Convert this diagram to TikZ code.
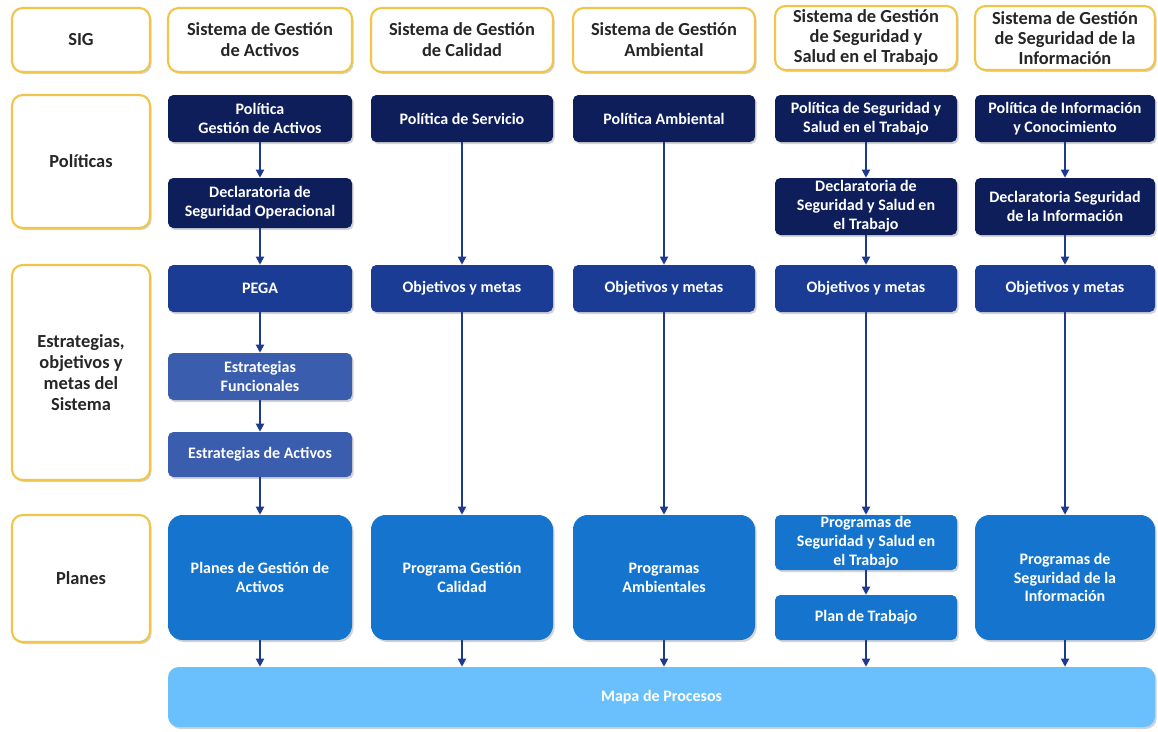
\documentclass[tikz,border=0pt]{standalone}
\usepackage{fontspec}
\setmainfont{Carlito}
\usetikzlibrary{arrows.meta,shadows}
\definecolor{ybord}{HTML}{F0C64A}
\definecolor{navy}{HTML}{0E1E5B}
\definecolor{midblue}{HTML}{1A3C94}
\definecolor{stratblue}{HTML}{3A5DAE}
\definecolor{planblue}{HTML}{1574CE}
\definecolor{mapblue}{HTML}{69C0FC}
\definecolor{arrowblue}{HTML}{1E3A8E}
\tikzset{
  sz/.style 2 args={minimum width=#1*0.75pt,minimum height=#2*0.75pt},
  shd/.style={drop shadow={shadow xshift=1.2pt,shadow yshift=-1.5pt,opacity=0.35,fill=gray}},
  hdr/.style={draw=ybord,line width=1.6pt,fill=white,rounded corners=8pt,shd,
    font=\bfseries\fontsize{13.8}{15.8}\selectfont,text=black!85,align=center,inner sep=0pt},
  box/.style={rounded corners=4pt,shd,text=white,align=center,inner sep=0pt,
    font=\bfseries\fontsize{12}{14.2}\selectfont},
  pol/.style={box,fill=navy},
  obj/.style={box,fill=midblue},
  strat/.style={box,fill=stratblue},
  plan/.style={box,fill=planblue,rounded corners=11pt},
  plansm/.style={box,fill=planblue,rounded corners=4pt},
  arr/.style={draw=arrowblue,line width=1.3pt,-{Triangle[length=6pt,width=6pt]}}
}
\begin{document}
\begin{tikzpicture}[x=0.75pt,y=-0.75pt]
\useasboundingbox (0,0) rectangle (1158,732);
% left column
\node[hdr,sz={138}{64}] (sig) at (81,40) {SIG};
\node[hdr,sz={138}{133}] (pols) at (81,161.5) {Políticas};
\node[hdr,sz={138}{215}] (estr) at (81,372.5) {\baselineskip=17.6pt Estrategias,\\objetivos y\\metas del\\Sistema};
\node[hdr,sz={138}{127}] (plns) at (81,578.5) {Planes};
% headers
\node[hdr,sz={184}{64}] (h1) at (260,40) {Sistema de Gestión\\de Activos};
\node[hdr,sz={182}{64}] (h2) at (462,40) {Sistema de Gestión\\de Calidad};
\node[hdr,sz={182}{64}] (h3) at (664,40) {Sistema de Gestión\\Ambiental};
\node[hdr,sz={182}{64},font=\bfseries\fontsize{13.8}{15}\selectfont] (h4) at (866,38) {Sistema de Gestión\\de Seguridad y\\Salud en el Trabajo};
\node[hdr,sz={180}{64},font=\bfseries\fontsize{13.8}{15}\selectfont] (h5) at (1065,38) {Sistema de Gestión\\de Seguridad de la\\Información};
% column 1
\node[pol,sz={184}{47}] (a1) at (260,118.5) {Política\\Gestión de Activos};
\node[pol,sz={184}{50}] (a2) at (260,203) {Declaratoria de\\Seguridad Operacional};
\node[obj,sz={184}{47}] (a3) at (260,288.5) {PEGA};
\node[strat,sz={184}{47}] (a4) at (260,376.5) {Estrategias\\Funcionales};
\node[strat,sz={184}{45}] (a5) at (260,454.5) {Estrategias de Activos};
\node[plan,sz={184}{125}] (a6) at (260,577.5) {Planes de Gestión de\\Activos};
% column 2
\node[pol,sz={182}{47}] (b1) at (462,118.5) {Política de Servicio};
\node[obj,sz={182}{47}] (b2) at (462,288.5) {Objetivos y metas};
\node[plan,sz={182}{125}] (b3) at (462,577.5) {Programa Gestión\\Calidad};
% column 3
\node[pol,sz={182}{47}] (c1) at (664,118.5) {Política Ambiental};
\node[obj,sz={182}{47}] (c2) at (664,288.5) {Objetivos y metas};
\node[plan,sz={182}{125}] (c3) at (664,577.5) {Programas\\Ambientales};
% column 4
\node[pol,sz={182}{47}] (d1) at (866,118.5) {Política de Seguridad y\\Salud en el Trabajo};
\node[pol,sz={182}{57}] (d2) at (866,206.5) {Declaratoria de\\Seguridad y Salud en\\el Trabajo};
\node[obj,sz={182}{47}] (d3) at (866,288.5) {Objetivos y metas};
\node[plansm,sz={182}{55}] (d4) at (866,542.5) {Programas de\\Seguridad y Salud en\\el Trabajo};
\node[plansm,sz={182}{45}] (d5) at (866,617.5) {Plan de Trabajo};
% column 5
\node[pol,sz={180}{47}] (e1) at (1065,118.5) {Política de Información\\y Conocimiento};
\node[pol,sz={180}{57}] (e2) at (1065,206.5) {Declaratoria Seguridad\\de la Información};
\node[obj,sz={180}{47}] (e3) at (1065,288.5) {Objetivos y metas};
\node[plan,sz={180}{125}] (e4) at (1065,577.5) {Programas de\\Seguridad de la\\Información};
% mapa
\node[box,fill=mapblue,rounded corners=8pt,sz={987}{60}] (map) at (661.5,697) {Mapa de Procesos};
% arrows
\foreach \u/\v in {a1/a2,a2/a3,a3/a4,a4/a5,a5/a6,b1/b2,b2/b3,c1/c2,c2/c3,d1/d2,d2/d3,d3/d4,d4/d5,e1/e2,e2/e3,e3/e4}
  \draw[arr] (\u.south) -- (\v.north);
\foreach \u in {a6,b3,c3,d5,e4}
  \draw[arr] (\u.south) -- (\u.south |- map.north);
\end{tikzpicture}
\end{document}
